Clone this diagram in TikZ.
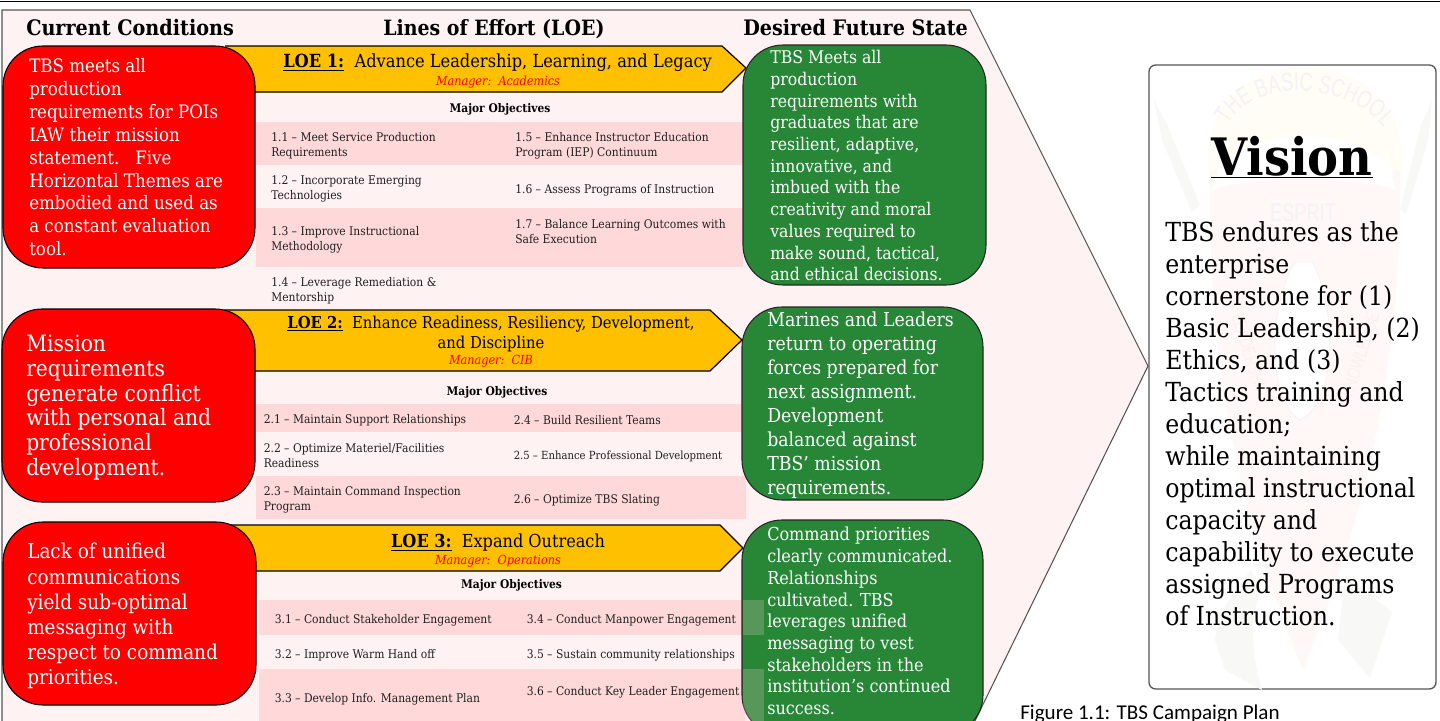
\documentclass[tikz,border=0pt]{standalone}
\usepackage{fontspec}
\setmainfont{DejaVu Serif Condensed}
\newfontfamily\capfont{Carlito}
\newfontfamily\markfont[FakeStretch=.72]{Liberation Sans}
\usetikzlibrary{calc,decorations.text}
\definecolor{panelpink}{HTML}{FFF2F2}
\definecolor{bandpink}{HTML}{FFD9D9}
\definecolor{loeyellow}{HTML}{FFC000}
\definecolor{goodgreen}{HTML}{288637}
\definecolor{edgegrey}{HTML}{555555}
\definecolor{objtext}{HTML}{1F1F1F}
\definecolor{markshield}{HTML}{FFF8F6}
\definecolor{markscroll}{HTML}{FFFDF5}
\definecolor{markgrey}{HTML}{F8F8F7}
\definecolor{marktext}{HTML}{F3F3F6}
\definecolor{markrose}{HTML}{FBF0EE}
\tikzset{
  x=.75pt,y=-.75pt,
  panel/.style={draw=edgegrey,fill=panelpink,line width=.8pt},
  band/.style={fill=bandpink,draw=none},
  bandover/.style={fill=bandpink,fill opacity=.22,draw=none},
  arrowbox/.style={draw=black,fill=loeyellow,line width=.9pt,line join=miter},
  redbox/.style={draw=black,fill=red,line width=.8pt,rounded corners=30pt},
  greenbox/.style={draw=black!85,fill=goodgreen,line width=.8pt,rounded corners=30pt},
  visionbox/.style={draw=edgegrey,fill=white,line width=1pt},
  head/.style={anchor=base west,inner sep=0,font=\fontsize{16}{18}\selectfont\bfseries},
  body/.style={anchor=north west,inner sep=0,align=left,text=white},
  objective/.style={anchor=west,inner sep=0,yshift=-.75pt,align=left,text=objtext,font=\fontsize{8.95}{11.2}\selectfont},
  majorobj/.style={anchor=center,inner sep=0,yshift=-.75pt,font=\fontsize{8.9}{11}\selectfont\bfseries},
  loetitle/.style={anchor=center,inner sep=0,align=center},
  manager/.style={anchor=center,inner sep=0,text=red,font=\fontsize{9.4}{12}\selectfont\itshape},
}
\begin{document}
\begin{tikzpicture}
\useasboundingbox (0,0) rectangle (1440,721);
\fill[white] (0,0) rectangle (1440,721);
\draw[black,line width=.9pt] (0,1.5) -- (1440,1.5);
\draw[panel] (2,10) -- (970,10) -- (1148,366) -- (973,725) -- (2,725) -- cycle;
% bands
\fill[band] (256,122) rectangle (743,165);
\fill[band] (256,208) rectangle (743,267);
\fill[band] (256,404) rectangle (742,432);
\fill[band] (256,476) rectangle (746,519);
\fill[band] (259,600) rectangle (745,635);
\fill[band] (259,669) rectangle (745,722);
% LOE arrows (their left ends lie behind the red boxes)
\draw[arrowbox] (225,46) -- (722,46) -- (746,68) -- (722,92) -- (225,92);
\draw[arrowbox] (224,310) -- (710,310) -- (742,340) -- (710,371) -- (224,371);
\draw[arrowbox] (231,525) -- (720,525) -- (743,548) -- (720,571) -- (231,571);
% red boxes
\draw[redbox] (3,46) rectangle (255,268);
\draw[redbox] (2,309) rectangle (255,502);
\draw[redbox] (3,522) rectangle (256,705);
% green boxes
\draw[greenbox] (743,45) rectangle (986,285);
\draw[greenbox] (742,307) rectangle (983,500);
\draw[greenbox] (742,520) rectangle (983,735);
% bands seen through the third green box
\fill[bandover] (742.5,600) rectangle (764,635);
\fill[bandover] (742.5,669) rectangle (764,722);
% vision box and its pale crest
\draw[visionbox,rounded corners=5pt] (1149,65) rectangle (1436,689);
\fill[markgrey] (1154,100) -- (1166,122) -- (1200,205) -- (1192,212) -- (1162,140) -- cycle;
\fill[markgrey] (1432,100) -- (1421,125) -- (1400,210) -- (1406,214) -- (1428,140) -- cycle;
\fill[markgrey] (1345,575) -- (1392,612) -- (1370,678) -- (1338,640) -- cycle;
\fill[markgrey] (1215,640) .. controls (1220,600) and (1240,590) .. (1250,570) -- (1262,590) .. controls (1250,610) and (1250,650) .. (1262,690) -- (1225,670) -- cycle;
\fill[markshield] (1210,160) .. controls (1208,330) and (1225,480) .. (1303,670) .. controls (1380,480) and (1402,330) .. (1400,160) .. controls (1360,130) and (1250,130) .. (1210,160) -- cycle;
\fill[markscroll] (1208,170) .. controls (1205,100) and (1250,68) .. (1303,68) .. controls (1360,68) and (1405,100) .. (1402,170) -- (1392,170) .. controls (1360,125) and (1250,125) .. (1218,170) -- cycle;
\fill[white] (1218,170) .. controls (1250,125) and (1360,125) .. (1392,170) -- (1395,190) .. controls (1360,175) and (1250,175) .. (1212,190) -- cycle;
\draw[markrose,line width=.6pt,fill=white] (1295,262) .. controls (1270,300) and (1265,400) .. (1300,420) .. controls (1340,400) and (1335,300) .. (1312,262) -- cycle;
\path[decorate,decoration={text along path,text align=center,text={|\markfont\fontsize{19}{19}\selectfont\color{marktext}|THE BASIC SCHOOL}}] (1226,128) .. controls (1250,78) and (1345,78) .. (1386,130);
\node[anchor=center,inner sep=0,text=marktext,font=\markfont\fontsize{19}{19}\selectfont] (markesprit) at (1303,213) {ESPRIT};
\node[anchor=center,inner sep=0,text=markrose,rotate=-73,font=\markfont\fontsize{14}{14}\selectfont] (markleft) at (1250,355) {LEADERSHIP};
\node[anchor=center,inner sep=0,text=markrose,rotate=72,font=\markfont\fontsize{14}{14}\selectfont] (markright) at (1360,355) {KNOWLEDGE};
% headings
\node[head] (hcur) at (26,36) {Current Conditions};
\node[head,font=\fontsize{15.8}{18}\selectfont\bfseries] (hloe) at (383,36) {Lines of Effort (LOE)};
\node[head] (hfut) at (743,36) {Desired Future State};
% red text
\node[body,font=\fontsize{13.9}{17.2}\selectfont] (r1) at (29,58) {TBS meets all\\production\\requirements for POIs\\IAW their mission\\statement.\ \ \ Five\\Horizontal Themes are\\embodied and used as\\a constant evaluation\\tool.};
\node[body,font=\fontsize{16.9}{18.5}\selectfont] (r2) at (26,335) {Mission\\requirements\\generate conflict\\with personal and\\professional\\development.};
\node[body,font=\fontsize{15.35}{18.9}\selectfont] (r3) at (27,543) {Lack of unified\\communications\\yield sub-optimal\\messaging with\\respect to command\\priorities.};
% green text
\node[body,font=\fontsize{13.1}{16.3}\selectfont] (g1) at (770,50) {TBS Meets all\\production\\requirements with\\graduates that are\\resilient, adaptive,\\innovative, and\\imbued with the\\creativity and moral\\values required to\\make sound, tactical,\\and ethical decisions.};
\node[body,font=\fontsize{14.45}{18}\selectfont] (g2) at (767,312) {Marines and Leaders\\return to operating\\forces prepared for\\next assignment.\\Development\\balanced against\\TBS’ mission\\requirements.};
\node[body,font=\fontsize{13.4}{16.3}\selectfont] (g3) at (767,527) {Command priorities\\clearly communicated.\\Relationships\\cultivated. TBS\\leverages unified\\messaging to vest\\stakeholders in the\\institution’s continued\\success.};
% LOE titles
\node[loetitle,font=\fontsize{13.55}{16}\selectfont] (t1) at (497.5,63) {\underline{\textbf{LOE 1:}}\ \ Advance Leadership, Learning, and Legacy};
\node[manager] (m1) at (498,82) {Manager:\ \ Academics};
\node[loetitle,font=\fontsize{12.3}{15.5}\selectfont] (t2) at (491,334) {\underline{\textbf{LOE 2:}}\ \ Enhance Readiness, Resiliency, Development,\\and Discipline};
\node[manager] (m2) at (491,361.5) {Manager:\ \ CIB};
\node[loetitle,font=\fontsize{13.45}{16}\selectfont] (t3) at (498,543) {\underline{\textbf{LOE 3:}}\ \ Expand Outreach};
\node[manager] (m3) at (498,561) {Manager:\ \ Operations};
% objectives LOE1
\node[majorobj] (mo1) at (500,108.5) {Major Objectives};
\node[objective] (o11) at (271,144.5) {1.1 – Meet Service Production\\Requirements};
\node[objective] (o12) at (271,188) {1.2 – Incorporate Emerging\\Technologies};
\node[objective] (o13) at (271,239) {1.3 – Improve Instructional\\Methodology};
\node[objective] (o14) at (271,289.5) {1.4 – Leverage Remediation \&\\Mentorship};
\node[objective] (o15) at (515,144.5) {1.5 – Enhance Instructor Education\\Program (IEP) Continuum};
\node[objective] (o16) at (515,189) {1.6 – Assess Programs of Instruction};
\node[objective] (o17) at (515,231) {1.7 – Balance Learning Outcomes with\\Safe Execution};
% objectives LOE2
\node[majorobj] (mo2) at (497,391) {Major Objectives};
\node[objective] (o21) at (263.5,419) {2.1 – Maintain Support Relationships};
\node[objective] (o22) at (263.5,455) {2.2 – Optimize Materiel/Facilities\\Readiness};
\node[objective] (o23) at (263.5,499) {2.3 – Maintain Command Inspection\\Program};
\node[objective] (o24) at (513.5,419) {2.4 – Build Resilient Teams};
\node[objective,font=\fontsize{8.4}{11.2}\selectfont] (o25) at (513.5,455) {2.5 – Enhance Professional Development};
\node[objective] (o26) at (513.5,499) {2.6 – Optimize TBS Slating};
% objectives LOE3
\node[majorobj] (mo3) at (511.5,584) {Major Objectives};
\node[objective] (o31) at (274.5,619) {3.1 – Conduct Stakeholder Engagement};
\node[objective] (o32) at (274.5,654) {3.2 – Improve Warm Hand off};
\node[objective] (o33) at (274.5,698) {3.3 – Develop Info. Management Plan};
\node[objective] (o34) at (526.5,619) {3.4 – Conduct Manpower Engagement};
\node[objective] (o35) at (526.5,654) {3.5 – Sustain community relationships};
\node[objective] (o36) at (526.5,691) {3.6 – Conduct Key Leader Engagement};
% vision text
\node[anchor=base,inner sep=0,font=\fontsize{38.7}{44}\selectfont\bfseries] (vt) at (1292,175) {\underline{Vision}};
\node[anchor=north west,inner sep=0,align=left,font=\fontsize{19.7}{24}\selectfont] (vb) at (1165,221) {TBS endures as the\\enterprise\\cornerstone for (1)\\Basic Leadership, (2)\\Ethics, and (3)\\Tactics training and\\education;\\while maintaining\\optimal instructional\\capacity and\\capability to execute\\assigned Programs\\of Instruction.};
\node[anchor=north west,inner sep=0,font=\capfont\fontsize{15.8}{18}\selectfont] (cap) at (1020,705) {Figure 1.1: TBS Campaign Plan};
\end{tikzpicture}
\end{document}
